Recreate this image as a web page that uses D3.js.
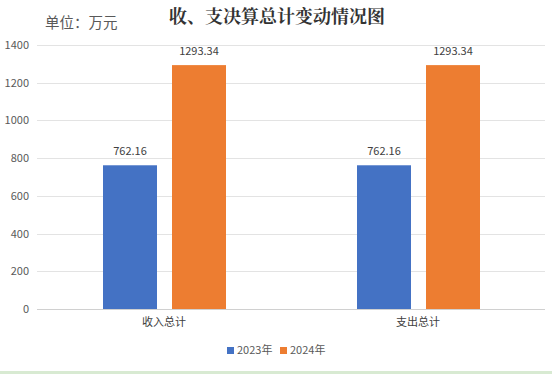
<!DOCTYPE html>
<html><head><meta charset="utf-8">
<script src="https://cdn.jsdelivr.net/npm/d3@7"></script>
<style>body{margin:0;background:#fff;}svg{display:block;}</style>
</head><body>
<script>
const categories = ["收入总计", "支出总计"];
const seriesNames = ["2023年", "2024年"];
const values2023 = [762.16, 762.16];
const values2024 = [1293.34, 1293.34];
const yTicks = [0, 200, 400, 600, 800, 1000, 1200, 1400];
const colors = ["#4472C4", "#ED7D31"];

const W = 552, H = 374;
const svg = d3.select("body").append("svg").attr("width", W).attr("height", H);
const font = "'Noto Sans CJK SC', 'Liberation Sans', sans-serif";

const x = d3.scaleBand().domain(categories).range([37, 545]).paddingInner(0).paddingOuter(0);
const y = d3.scaleLinear().domain([0, 1400]).range([309, 45]);

// gridlines
svg.append("g").selectAll("line").data(yTicks).join("line")
  .attr("x1", 37).attr("x2", 545)
  .attr("y1", d => Math.round(y(d)) + 0.5).attr("y2", d => Math.round(y(d)) + 0.5)
  .attr("stroke", d => d === 0 ? "#d0d0d0" : "#e3e3e3").attr("stroke-width", 1);

// y axis labels
const yAxis = d3.axisLeft(y).tickValues(yTicks).tickFormat(d3.format("d")).tickSize(0).tickPadding(0);
const ga = svg.append("g").attr("transform", "translate(29,0)").call(yAxis);
ga.select(".domain").remove();
ga.selectAll("text").attr("font-family", font).attr("font-size", 11).attr("fill", "#595959");

// x axis labels
const xAxis = d3.axisBottom(x).tickSize(0).tickPadding(0);
const gx = svg.append("g").attr("transform", "translate(0,318)").call(xAxis);
gx.select(".domain").remove();
gx.selectAll("text").attr("font-family", font).attr("font-size", 11).attr("fill", "#404040");

const x1 = d3.scaleBand().domain(seriesNames).range([66, 189]).paddingInner(15 / 69).paddingOuter(0);
const data = categories.map((c, i) => ({cat: c, vals: [values2023[i], values2024[i]]}));

const groups = svg.append("g").selectAll("g").data(data).join("g")
  .attr("transform", d => `translate(${x(d.cat)},0)`);
groups.selectAll("rect").data(d => d.vals.map((v, j) => ({v, s: seriesNames[j], j}))).join("rect")
  .attr("x", d => x1(d.s)).attr("width", x1.bandwidth())
  .attr("y", d => y(d.v)).attr("height", d => y(0) - y(d.v))
  .attr("fill", d => colors[d.j]);
groups.selectAll("text").data(d => d.vals.map((v, j) => ({v, s: seriesNames[j], j}))).join("text")
  .attr("x", d => x1(d.s) + x1.bandwidth() / 2).attr("y", d => y(d.v) - 10)
  .attr("text-anchor", "middle").attr("font-family", font).attr("font-size", 11)
  .attr("fill", "#404040").text(d => d.v.toFixed(2));

// title
svg.append("text").attr("x", 277).attr("y", 23).attr("text-anchor", "middle")
  .attr("font-family", "'Noto Serif CJK SC', 'Noto Sans CJK SC', serif").attr("font-weight", "bold")
  .attr("font-size", 18).attr("fill", "#333").text("收、支决算总计变动情况图");
svg.append("text").attr("x", 45).attr("y", 28)
  .attr("font-family", font).attr("font-size", 14.5).attr("fill", "#595959").text("单位：万元");

// legend
const lg = svg.append("g").attr("transform", "translate(227,347)");
seriesNames.forEach((s, i) => {
  const g = lg.append("g").attr("transform", `translate(${i * 53},0)`);
  g.append("rect").attr("width", 7).attr("height", 7).attr("fill", colors[i]);
  g.append("text").attr("x", 10).attr("y", 7).attr("font-family", font).attr("font-size", 11)
    .attr("fill", "#595959").text(s);
});

// bottom strip
svg.append("rect").attr("x", 0).attr("y", 371).attr("width", W).attr("height", 3).attr("fill", "#d8ead2");
</script>
</body></html>
